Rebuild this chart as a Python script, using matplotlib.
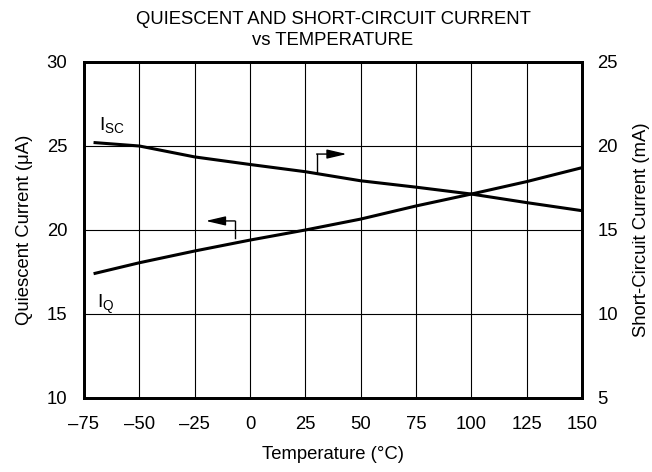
import numpy as np
import matplotlib.pyplot as plt

plt.rcParams['font.family'] = ['Liberation Sans', 'DejaVu Sans']

temp = [-70, -50, -25, 0, 25, 50, 75, 100, 125, 150]
iq = [17.42, 18.05, 18.75, 19.4, 20.0, 20.65, 21.43, 22.14, 22.88, 23.71]
isc = [20.2, 20.0, 19.35, 18.9, 18.47, 17.93, 17.55, 17.14, 16.63, 16.15]
xticks = [-75, -50, -25, 0, 25, 50, 75, 100, 125, 150]
xlabels = ['\u201375', '\u201350', '\u201325', '0', '25', '50', '75', '100', '125', '150']

fs = 13.3

fig = plt.figure(figsize=(6.52, 4.72), dpi=100)
ax = fig.add_axes([84/652, 74/472, 498/652, 336/472])
ax2 = ax.twinx()

ax.plot(temp, iq, color='black', lw=2.2)
ax2.plot(temp, isc, color='black', lw=2.2)

ax.set_xlim(-75, 150)
ax.set_ylim(10, 30)
ax2.set_ylim(5, 25)
ax.set_xticks(xticks)
ax.set_xticklabels(xlabels)
ax.set_yticks([10, 15, 20, 25, 30])
ax2.set_yticks([5, 10, 15, 20, 25])
ax.grid(True, color='black', lw=0.8)
for a in (ax, ax2):
    a.tick_params(length=0, labelsize=fs)
    for s in a.spines.values():
        s.set_linewidth(2)
ax.tick_params(axis='x', pad=13)
ax.tick_params(axis='y', pad=12)
ax2.tick_params(axis='y', pad=11)

ax.set_xlabel('Temperature (\u00b0C)', fontsize=fs, labelpad=9)
ax.set_ylabel('Quiescent Current (\u03bcA)', fontsize=fs, labelpad=10)
ax2.set_ylabel('Short-Circuit Current (mA)', fontsize=fs, labelpad=11)
ax.set_title('QUIESCENT AND SHORT-CIRCUIT CURRENT\nvs TEMPERATURE', fontsize=fs, pad=12, linespacing=1.35)

# pointer arrows
head = dict(arrowstyle='-|>,head_length=1.2,head_width=0.28', color='black',
            lw=1, mutation_scale=10, shrinkA=0, shrinkB=0)
ax.plot([-6.8, -6.8], [19.55, 20.54], color='black', lw=1)
ax.annotate('', xy=(-20.0, 20.54), xytext=(-6.8, 20.54), arrowprops=head)
ax.plot([30.1, 30.1], [23.45, 24.52], color='black', lw=1)
ax.annotate('', xy=(43.7, 24.52), xytext=(30.1, 24.52), arrowprops=head)

ax.text(-68, 25.9, r'I$_{\mathregular{SC}}$', fontsize=14)
ax.text(-69, 15.4, r'I$_{\mathregular{Q}}$', fontsize=14)

fig.savefig('out.png', dpi=100)
